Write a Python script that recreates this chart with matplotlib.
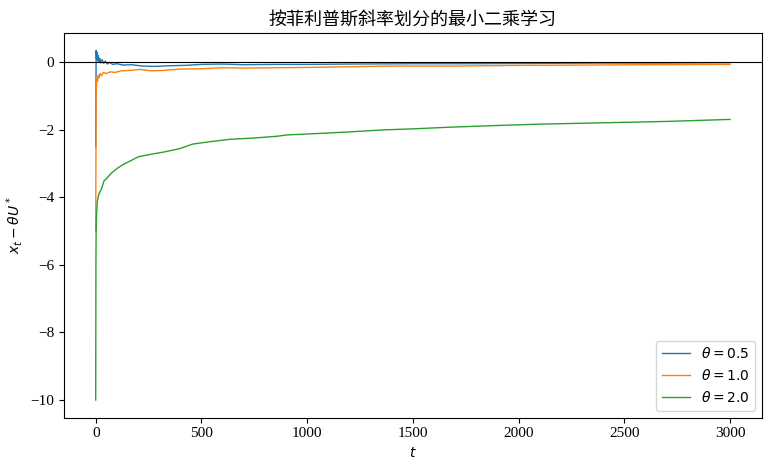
import matplotlib
matplotlib.use("Agg")
import matplotlib.pyplot as plt

# theta = 0.5
t_a = [0, 2, 4, 6, 9, 12, 16, 20, 25, 30, 38, 45, 55, 65, 80, 100, 130, 170,
       220, 280, 350, 420, 500, 600, 700, 850, 1000, 1200, 1500, 1800, 2100,
       2400, 2700, 3000]
v_a = [-2.5, 0.35, 0.1, 0.3, 0.05, 0.2, 0.0, 0.12, -0.02, 0.08, -0.03, 0.04,
       -0.05, 0.0, -0.06, -0.04, -0.08, -0.07, -0.11, -0.12, -0.10, -0.09,
       -0.06, -0.05, -0.07, -0.06, -0.06, -0.05, -0.04, -0.04, -0.03, -0.02,
       -0.02, -0.01]

# theta = 1.0
t_b = [0, 2, 4, 6, 9, 12, 16, 20, 28, 36, 50, 70, 90, 120, 160, 210, 260, 320,
       400, 500, 600, 700, 850, 1000, 1200, 1400, 1700, 2000, 2300, 2600, 3000]
v_b = [-5.0, -1.0, -0.6, -0.45, -0.55, -0.38, -0.45, -0.33, -0.40, -0.30,
       -0.33, -0.28, -0.30, -0.25, -0.24, -0.21, -0.25, -0.24, -0.20, -0.19,
       -0.16, -0.17, -0.16, -0.15, -0.13, -0.11, -0.11, -0.09, -0.08, -0.07,
       -0.06]

# theta = 2.0
t_c = [0, 1, 2, 4, 8, 15, 27, 40, 50, 74, 106, 137, 170, 200, 230, 263, 327,
       400, 459, 540, 634, 750, 856, 903, 1074, 1200, 1359, 1500, 1675, 1900,
       2100, 2400, 2700, 3000]
v_c = [-10.0, -6.0, -5.0, -4.5, -4.1, -3.9, -3.75, -3.5, -3.45, -3.28, -3.12,
       -3.0, -2.9, -2.8, -2.76, -2.72, -2.65, -2.55, -2.42, -2.35, -2.28,
       -2.24, -2.19, -2.15, -2.10, -2.06, -2.0, -1.97, -1.92, -1.87, -1.83,
       -1.79, -1.75, -1.69]

labels = [r"$\theta = 0.5$", r"$\theta = 1.0$", r"$\theta = 2.0$"]
title = "按菲利普斯斜率划分的最小二乘学习"

plt.rcParams['font.family'] = ['Liberation Serif', 'Noto Sans CJK SC']
plt.rcParams['mathtext.fontset'] = 'dejavusans'

fig = plt.figure(figsize=(7.71, 4.71), dpi=100)
ax = fig.add_axes([0.083, 0.1134, 0.905, 0.8166])

ax.plot(t_a, v_a, lw=1.0, label=labels[0])
ax.plot(t_b, v_b, lw=1.0, label=labels[1])
ax.plot(t_c, v_c, lw=1.0, label=labels[2])
ax.axhline(0, color='black', lw=0.8)

ax.set_xlim(-150, 3150)
ax.set_ylim(-10.52, 0.87)
ax.set_xticks([0, 500, 1000, 1500, 2000, 2500, 3000])
ax.set_yticks([0, -2, -4, -6, -8, -10])
ax.set_yticklabels(["0", "−2", "−4", "−6", "−8", "−10"])
ax.tick_params(labelsize=11)

ax.set_xlabel(r"$t$", fontsize=10)
ax.set_ylabel(r"$x_t - \theta U^*$", fontsize=10)
ax.set_title(title, fontsize=13, family=['Noto Sans CJK SC'])
leg = ax.legend(loc='lower right', fontsize=10)
for txt in leg.get_texts():
    txt.set_family('DejaVu Sans')

fig.savefig("out.png", dpi=100)
